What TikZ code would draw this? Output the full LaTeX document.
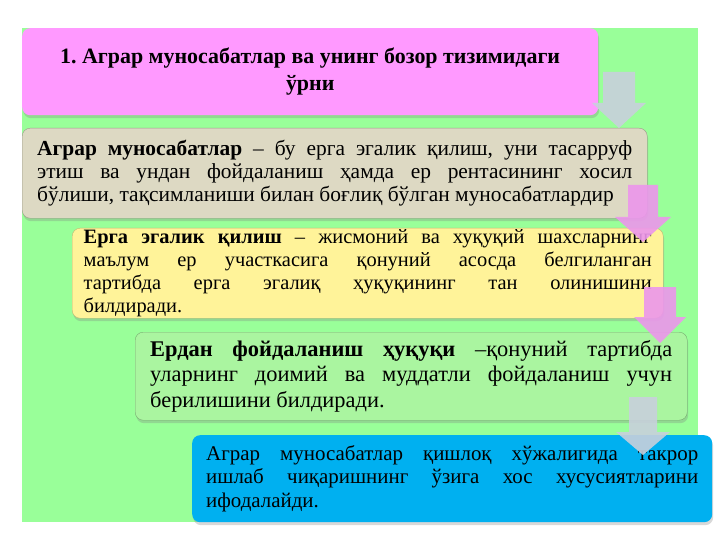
\documentclass[tikz,border=0pt]{standalone}
\usepackage{fontspec}
\setmainfont{Liberation Serif}
\usepackage{tikz}
\usetikzlibrary{shadows}
\frenchspacing

\definecolor{bggreen}{RGB}{153,255,153}
\definecolor{titlepink}{RGB}{255,153,255}
\definecolor{greybox}{RGB}{221,217,195}
\definecolor{yellowbox}{RGB}{255,243,153}
\definecolor{greenbox}{RGB}{170,245,160}
\definecolor{bluebox}{RGB}{0,176,240}
\definecolor{arrowgrey}{RGB}{200,208,220}
\definecolor{arrowpink}{RGB}{236,150,236}

% justified and last lines of a box, \jw wide
\newlength{\jw}
\newcommand{\jline}[1]{\makebox[\jw][s]{#1}}
\newcommand{\lline}[1]{\makebox[\jw][l]{#1}}
% down block arrow: colour, x, top, head base, tip, half shaft, half head
\newcommand{\blockarrow}[7]{%
  \fill[#1, opacity=0.9] (#2-#6,#3) -- (#2+#6,#3) -- (#2+#6,#4) -- (#2+#7,#4)
    -- (#2,#5) -- (#2-#7,#4) -- (#2-#6,#4) -- cycle;}

\begin{document}
\begin{tikzpicture}[
    x=1bp, y=-1bp,
    box/.style={rounded corners=8bp, anchor=north west, inner sep=0pt, align=left,
      drop shadow={opacity=0.3, shadow xshift=1bp, shadow yshift=-3bp}}
]
\useasboundingbox (0,0) rectangle (720,540);
\fill[white] (0,0) rectangle (720,540);
\fill[bggreen] (22,28) rectangle (698,522);

% Nodes
\node[box, fill=titlepink, minimum width=576bp, minimum height=87bp,
  align=center, font=\fontsize{22}{27}\selectfont\bfseries] (title) at (22,28)
  {1. Аграр муносабатлар ва унинг бозор тизимидаги\\ ўрни};

\setlength{\jw}{595bp}
\node[box, fill=greybox, draw=greybox!70!black, minimum width=625bp,
  minimum height=90bp, font=\fontsize{21.5}{23.5}\selectfont] (relations) at (22,128)
  {\jline{\textbf{Аграр муносабатлар} – бу ерга эгалик қилиш, уни тасарруф}\\
   \jline{этиш ва ундан фойдаланиш ҳамда ер рентасининг хосил}\\
   \lline{бўлиши, тақсимланиши билан боғлиқ бўлган муносабатлардир}};

\setlength{\jw}{568bp}
\node[box, fill=yellowbox, draw=yellowbox!75!black, minimum width=591bp,
  minimum height=90bp, font=\fontsize{20.5}{23}\selectfont] (ownership) at (72,228)
  {\jline{\textbf{Ерга эгалик қилиш} – жисмоний ва хуқуқий шахсларнинг}\\
   \jline{маълум ер участкасига қонуний асосда белгиланган}\\
   \jline{тартибда ерга эгалиқ ҳуқуқининг тан олинишини}\\
   \lline{билдиради.}};

\setlength{\jw}{522bp}
\node[box, fill=greenbox, draw=greenbox!70!black, minimum width=552bp,
  minimum height=88bp, font=\fontsize{22.5}{25.5}\selectfont] (usage) at (135,332)
  {\jline{\textbf{Ердан фойдаланиш ҳуқуқи} –қонуний тартибда}\\
   \jline{уларнинг доимий ва муддатли фойдаланиш учун}\\
   \lline{берилишини билдиради.}};

\setlength{\jw}{492bp}
\node[box, fill=bluebox, minimum width=520bp, minimum height=87bp,
  font=\fontsize{21}{24}\selectfont] (summary) at (192,435)
  {\jline{Аграр муносабатлар қишлоқ хўжалигида такрор}\\
   \jline{ишлаб чиқаришнинг ўзига хос хусусиятларини}\\
   \lline{ифодалайди.}};

% Arrows
\blockarrow{arrowgrey}{619}{72}{103}{128}{16}{27}
\blockarrow{arrowpink}{643}{185}{217}{242}{15}{28}
\blockarrow{arrowpink}{660}{287}{317}{343}{16}{26}
\blockarrow{arrowgrey}{643}{397}{432}{455}{14}{27}

\end{tikzpicture}
\end{document}
